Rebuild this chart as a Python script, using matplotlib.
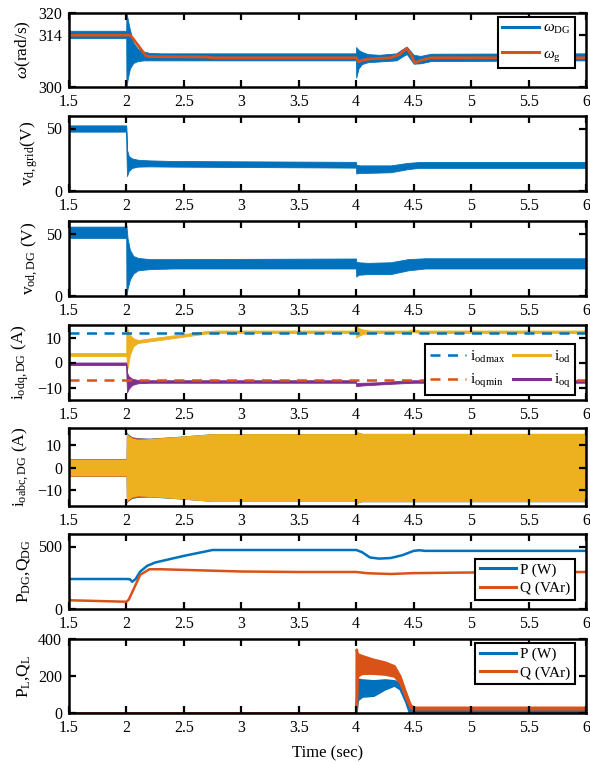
import matplotlib
matplotlib.use("Agg")
import numpy as np
import matplotlib.pyplot as plt
from matplotlib.lines import Line2D

plt.rcParams.update({
    "font.family": "Liberation Serif",
    "mathtext.fontset": "custom",
    "mathtext.rm": "Liberation Serif",
    "mathtext.it": "Liberation Serif:italic",
    "font.size": 11.5,
})

BLUE = "#0072BD"
RED = "#D95319"
YEL = "#EDB120"
PUR = "#7E2F8E"

x_ticks = [1.5, 2, 2.5, 3, 3.5, 4, 4.5, 5, 5.5, 6]

# --- frequency (band of the noisy DG signal + grid reference) ---
t_wdg = [1.5, 1.998, 2.0, 2.01, 2.03, 2.06, 2.1, 2.15, 2.2, 2.3, 3.998, 4.0, 4.02, 4.05,
         4.1, 4.2, 4.35, 4.41, 4.44, 4.5, 4.56, 4.65, 6.0]
w_dg_lo = [313.2, 313.2, 300.0, 302.0, 305.0, 306.5, 307.0, 307.2, 307.2, 307.2, 307.2, 302.5,
           305.0, 306.2, 306.7, 306.9, 307.2, 308.4, 308.9, 306.3, 306.4, 307.0, 307.2]
w_dg_hi = [315.2, 315.2, 320.0, 318.5, 315.5, 312.0, 310.3, 309.6, 309.2, 309.1, 309.1, 310.8,
           310.0, 309.5, 308.9, 308.7, 309.1, 310.4, 310.9, 308.7, 308.4, 309.0, 309.1]
t_wg = [1.5, 2.03, 2.05, 2.17, 2.2, 2.7, 2.75, 4.0, 4.02, 4.06, 4.12, 4.3, 4.38, 4.44,
        4.48, 4.51, 4.56, 4.65, 6.0]
w_g = [314.0, 314.0, 313.4, 308.4, 308.2, 308.1, 307.9, 307.9, 306.8, 307.3, 307.6, 307.9,
       308.8, 310.5, 308.6, 306.5, 307.2, 307.9, 307.9]

# --- grid d-axis voltage ---
t_vg = [1.5, 1.998, 2.0, 2.005, 2.02, 2.05, 2.1, 2.2, 2.4, 3.998, 4.0, 4.03, 4.1, 4.3,
        4.45, 4.55, 6.0]
vg_lo = [47.5, 47.5, 30.0, 12.0, 16.0, 18.5, 19.5, 19.7, 19.5, 18.7, 14.0, 14.5, 14.5, 15.0,
         17.5, 18.5, 18.5]
vg_hi = [52.5, 52.5, 50.0, 33.0, 28.0, 26.0, 25.0, 24.5, 24.0, 23.3, 21.0, 20.5, 20.5, 20.5,
         22.5, 23.2, 23.2]

# --- DG output d-axis voltage ---
t_vo = [1.5, 1.998, 2.0, 2.01, 2.03, 2.06, 2.1, 2.2, 2.4, 3.998, 4.0, 4.02, 4.1, 4.3,
        4.45, 4.6, 6.0]
vo_lo = [46.5, 46.5, 0.0, 6.0, 13.0, 18.0, 20.5, 21.5, 22.0, 22.0, 15.5, 17.0, 17.5, 17.5,
         20.5, 22.0, 22.0]
vo_hi = [55.5, 55.5, 56.0, 46.0, 37.0, 32.0, 30.5, 29.5, 29.5, 30.0, 27.5, 27.0, 26.5, 27.0,
         29.5, 30.2, 30.2]

# --- dq currents ---
i_odmax = 12.0
i_oqmin = -7.0
t_id = [1.5, 1.998, 2.0, 2.005, 2.015, 2.03, 2.06, 2.1, 2.7, 2.8, 3.998, 4.0, 4.02, 4.06,
        4.12, 4.45, 4.5, 4.55, 6.0]
id_lo = [2.6, 2.6, 2.6, -3.0, -1.0, 3.0, 6.5, 7.8, 11.6, 11.8, 11.8, 10.0, 10.6, 11.4, 11.8,
         11.8, 12.2, 11.8, 11.8]
id_hi = [3.8, 3.8, 15.0, 14.0, 12.5, 11.0, 9.7, 9.0, 12.6, 12.8, 12.8, 15.0, 13.8, 13.2, 12.8,
         12.8, 13.3, 12.8, 12.8]
t_iq = [1.5, 1.998, 2.0, 2.005, 2.02, 2.05, 2.1, 2.2, 3.998, 4.0, 4.05, 4.2, 4.4, 4.5, 6.0]
iq_lo = [-1.0, -1.0, -6.0, -12.0, -10.5, -9.0, -8.3, -8.1, -8.1, -9.5, -9.2, -8.8, -8.3, -8.1, -8.1]
iq_hi = [0.0, 0.0, -0.2, -4.0, -5.5, -6.5, -7.0, -7.1, -7.1, -8.2, -8.1, -7.9, -7.3, -7.1, -7.1]

# --- abc current envelope (three phases) ---
t_ia = [1.5, 1.998, 2.0, 2.01, 2.05, 2.1, 2.2, 2.5, 2.75, 3.998, 4.0, 4.02, 4.05, 6.0]
ia_amp = [3.7, 3.7, 15.5, 14.5, 13.0, 12.5, 12.8, 14.0, 15.0, 15.0, 16.5, 15.5, 15.1, 15.1]
ib_amp = [3.9, 3.9, 15.8, 15.0, 13.6, 13.2, 13.0, 14.0, 15.0, 15.0, 16.0, 15.5, 15.1, 15.1]

# --- DG powers ---
t_pdg = [1.5, 2.0, 2.03, 2.05, 2.08, 2.12, 2.18, 2.25, 2.5, 2.75, 4.0, 4.05, 4.12, 4.2,
         4.3, 4.4, 4.5, 4.55, 4.6, 6.0]
p_dg = [240, 240, 238, 218, 240, 300, 345, 372, 425, 472, 472, 455, 412, 403, 408, 430,
        465, 470, 465, 465]
t_qdg = [1.5, 2.0, 2.02, 2.06, 2.12, 2.2, 2.3, 3.0, 3.5, 4.0, 4.1, 4.3, 4.5, 5.0, 6.0]
q_dg = [70, 58, 75, 154, 274, 318, 318, 300, 296, 296, 286, 280, 287, 292, 296]

# --- load powers ---
t_pl = [1.5, 3.998, 4.0, 4.01, 4.05, 4.15, 4.25, 4.33, 4.38, 4.43, 4.46, 4.48, 4.5, 6.0]
pl_lo = [0, 0, 0, 70, 90, 95, 130, 150, 130, 60, 5, -5, 8, 8]
pl_hi = [0, 0, 0, 185, 180, 175, 180, 175, 165, 110, 40, 10, 17, 17]
t_ql = [1.5, 3.998, 4.0, 4.01, 4.05, 4.15, 4.25, 4.33, 4.38, 4.43, 4.47, 4.5, 6.0]
ql_lo = [0, 0, 0, 200, 215, 215, 210, 200, 165, 85, 30, 22, 22]
ql_hi = [0, 0, 345, 320, 310, 290, 275, 255, 200, 110, 45, 31, 31]

W, H = 590, 763
fig = plt.figure(figsize=(W / 100, H / 100), dpi=100)
tops = [13, 116, 221, 325, 428, 534, 639]
bots = [87, 191, 296, 400, 506, 609, 713]
axes = []
for t, b in zip(tops, bots):
    ax = fig.add_axes([69 / W, 1 - b / H, 517 / W, (b - t) / H])
    ax.set_xlim(1.5, 6)
    ax.set_xticks(x_ticks)
    ax.set_xticklabels([f"{v:g}" for v in x_ticks])
    ax.tick_params(direction="in", top=True, right=True, length=5, width=1.6,
                   labelsize=11.5, pad=5)
    for s in ax.spines.values():
        s.set_linewidth(1.8)
    axes.append(ax)


def legend(ax, handles, labels, loc, anchor, **kw):
    opts = dict(loc=loc, bbox_to_anchor=anchor, borderaxespad=0, fancybox=False,
                framealpha=1, edgecolor="black", fontsize=11, handlelength=2.4,
                handletextpad=0.25, borderpad=0.3, labelspacing=0.3)
    opts.update(kw)
    lg = ax.legend(handles, labels, **opts)
    lg.get_frame().set_linewidth(1.5)
    return lg


# 1: angular frequency
ax = axes[0]
ax.fill_between(t_wdg, w_dg_lo, w_dg_hi, color=BLUE, lw=0.6, edgecolor=BLUE)
ax.plot(t_wg, w_g, color=RED, lw=2.0)
ax.set_ylim(300, 320)
ax.set_yticks([300, 314, 320])
ax.set_ylabel(r"$\omega$(rad/s)", fontsize=12.5)
legend(ax, [Line2D([], [], color=BLUE, lw=2.2), Line2D([], [], color=RED, lw=2.2)],
       [r"$\omega_{\mathrm{DG}}$", r"$\omega_{\mathrm{g}}$"], "upper right", (0.979, 0.946),
       labelspacing=0.7)

# 2: grid voltage
ax = axes[1]
ax.fill_between(t_vg, vg_lo, vg_hi, color=BLUE, lw=0.6, edgecolor=BLUE)
ax.set_ylim(0, 60)
ax.set_yticks([0, 50])
ax.set_ylabel(r"v$_{\mathrm{d,grid}}$(V)", fontsize=12.5)

# 3: DG voltage
ax = axes[2]
ax.fill_between(t_vo, vo_lo, vo_hi, color=BLUE, lw=0.6, edgecolor=BLUE)
ax.set_ylim(0, 60)
ax.set_yticks([0, 50])
ax.set_ylabel(r"v$_{\mathrm{od,DG}}$ (V)", fontsize=12.5)

# 4: dq currents with limits
ax = axes[3]
ax.axhline(i_odmax, color=BLUE, lw=1.8, ls=(0, (4, 3)))
ax.axhline(i_oqmin, color=RED, lw=1.8, ls=(0, (4, 3)))
ax.fill_between(t_id, id_lo, id_hi, color=YEL, lw=0.6, edgecolor=YEL)
ax.fill_between(t_iq, iq_lo, iq_hi, color=PUR, lw=0.6, edgecolor=PUR)
ax.set_ylim(-15, 15)
ax.set_yticks([-10, 0, 10])
ax.set_ylabel(r"i$_{\mathrm{odq,DG}}$ (A)", fontsize=12.5)
legend(ax, [Line2D([], [], color=BLUE, lw=1.8, ls=(0, (4, 3))),
            Line2D([], [], color=RED, lw=1.8, ls=(0, (4, 3))),
            Line2D([], [], color=YEL, lw=2.2), Line2D([], [], color=PUR, lw=2.2)],
       [r"i$_{\mathrm{odmax}}$", r"i$_{\mathrm{oqmin}}$", r"i$_{\mathrm{od}}$", r"i$_{\mathrm{oq}}$"],
       "lower right", (0.979, 0.067), ncol=2, columnspacing=0.5, labelspacing=0.5)

# 5: three-phase currents (envelopes of the 50 Hz waveforms)
ax = axes[4]
ib = np.array(ib_amp)
ia = np.array(ia_amp)
ax.fill_between(t_ia, -ib, ib, color=BLUE, lw=0)
ax.fill_between(t_ia, -ib * 0.99, ib * 0.99, color=RED, lw=0)
ax.fill_between(t_ia, -ia, ia, color=YEL, lw=0)
ax.set_ylim(-17, 17.5)
ax.set_yticks([-10, 0, 10])
ax.set_ylabel(r"i$_{\mathrm{oabc,DG}}$ (A)", fontsize=12.5)

# 6: DG powers
ax = axes[5]
ax.plot(t_pdg, p_dg, color=BLUE, lw=1.8)
ax.plot(t_qdg, q_dg, color=RED, lw=1.8)
ax.set_ylim(0, 600)
ax.set_yticks([0, 500])
ax.set_ylabel(r"P$_{\mathrm{DG}}$,Q$_{\mathrm{DG}}$", fontsize=12.5)
legend(ax, [Line2D([], [], color=BLUE, lw=2.2), Line2D([], [], color=RED, lw=2.2)],
       ["P (W)", "Q (VAr)"], "lower right", (0.979, 0.12))

# 7: load powers
ax = axes[6]
ax.fill_between(t_pl, pl_lo, pl_hi, color=BLUE, lw=1.5, edgecolor=BLUE)
ax.fill_between(t_ql, ql_lo, ql_hi, color=RED, lw=1.8, edgecolor=RED)
ax.set_ylim(0, 400)
ax.set_yticks([0, 200, 400])
ax.set_ylabel(r"P$_{\mathrm{L}}$,Q$_{\mathrm{L}}$", fontsize=12.5)
ax.set_xlabel("Time (sec)", fontsize=12, labelpad=7)
legend(ax, [Line2D([], [], color=BLUE, lw=2.2), Line2D([], [], color=RED, lw=2.2)],
       ["P (W)", "Q (VAr)"], "upper right", (0.979, 0.946))

fig.savefig("out.png", dpi=100)
